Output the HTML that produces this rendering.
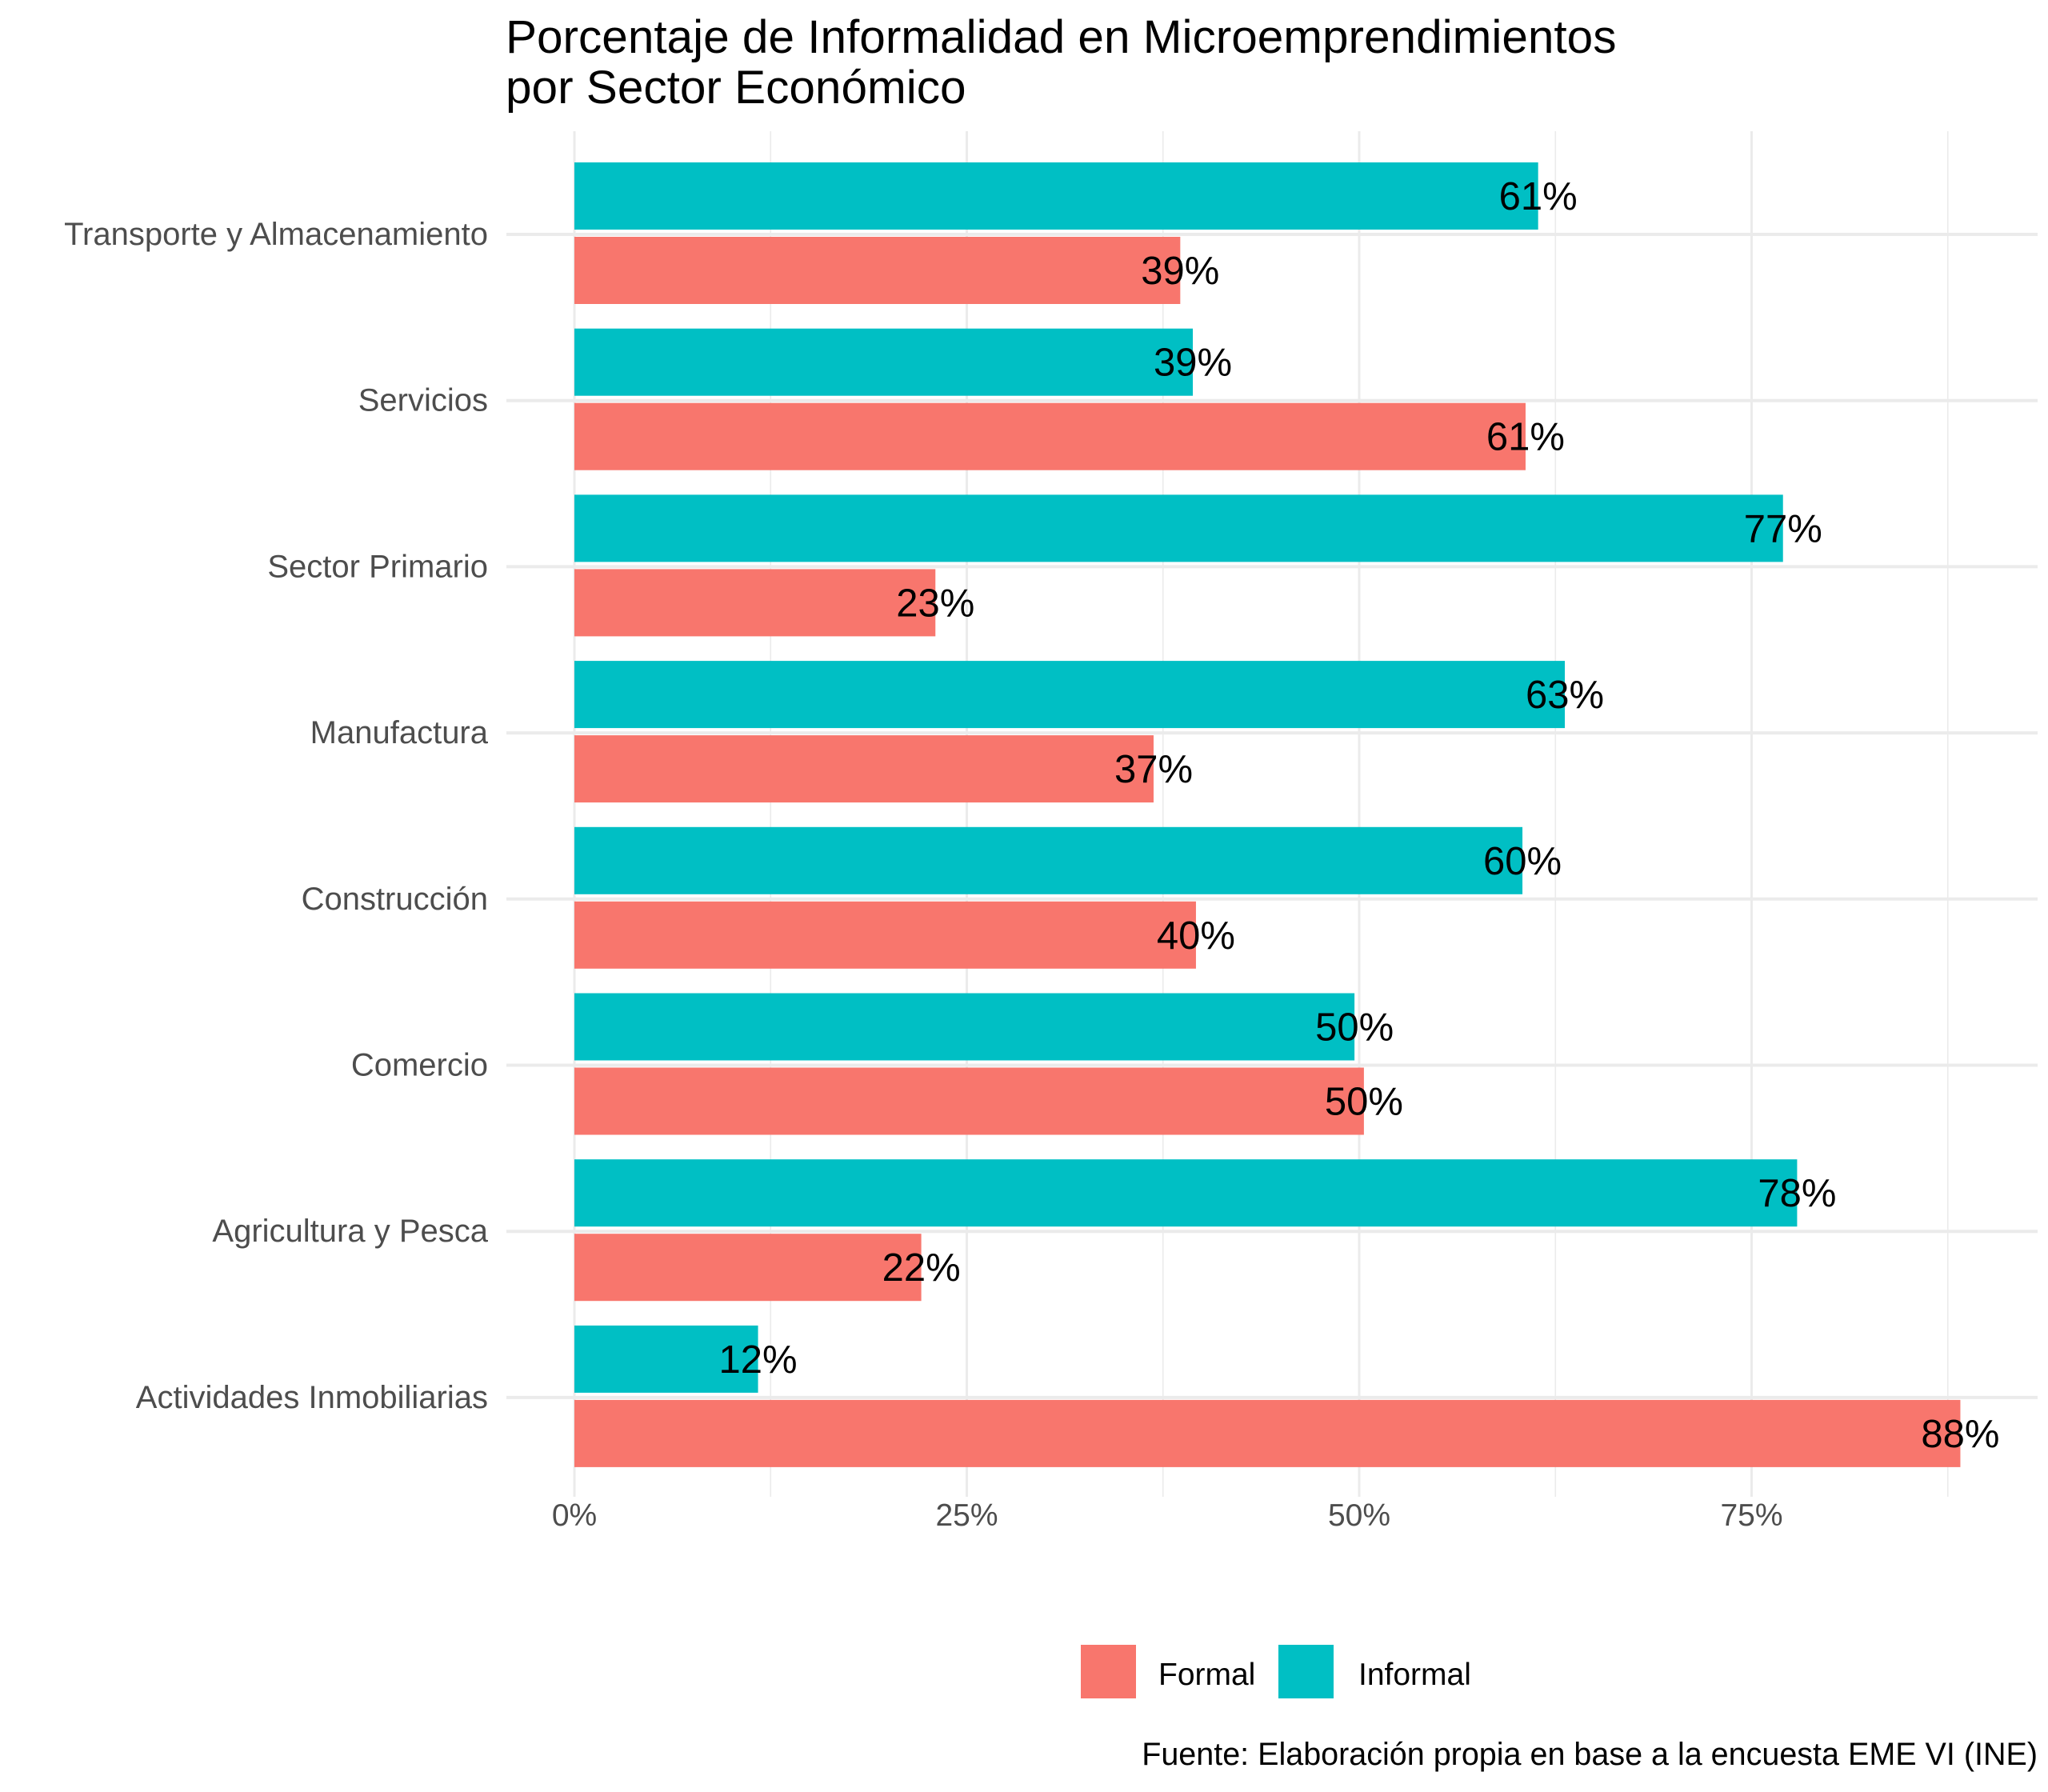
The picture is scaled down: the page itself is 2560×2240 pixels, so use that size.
<!DOCTYPE html>
<html><head><meta charset="utf-8">
<style>
html,body{margin:0;padding:0;background:#fff;}
svg{display:block;font-family:"Liberation Sans",Arial,sans-serif;}
</style></head>
<body>
<svg id="chart" width="2560" height="2240" viewBox="0 0 2560 2240" xmlns="http://www.w3.org/2000/svg">
<rect width="2560" height="2240" fill="#fff"/>
<text x="632" y="66" font-size="58.5" fill="#000">Porcentaje de Informalidad en Microemprendimientos</text>
<text x="632" y="129" font-size="58.5" fill="#000">por Sector Económico</text>
<g id="grid"></g>
<g id="bars"></g>
<g id="labels"></g>
<g id="yaxis"></g>
<g id="xaxis"></g>
<g>
<rect x="1351" y="2056" width="69" height="67" fill="#F8766D"/>
<text x="1448" y="2106" font-size="39" fill="#000">Formal</text>
<rect x="1598" y="2056" width="69" height="67" fill="#00BFC4"/>
<text x="1698" y="2106" font-size="39" fill="#000">Informal</text>
</g>
<text x="2547" y="2206" font-size="39.5" fill="#000" text-anchor="end">Fuente: Elaboración propia en base a la encuesta EME VI (INE)</text>
</svg>
<script>
const categories = ["Transporte y Almacenamiento","Servicios","Sector Primario","Manufactura","Construcción","Comercio","Agricultura y Pesca","Actividades Inmobiliarias"];
const informalValues = [61.4,39.4,77.0,63.1,60.4,49.7,77.9,11.7];
const formalValues = [38.6,60.6,23.0,36.9,39.6,50.3,22.1,88.3];
const xTicks = [0,25,50,75];
const xTickLabels = ["0%","25%","50%","75%"];

const NS = "http://www.w3.org/2000/svg";
const x0 = 718, pxPer = 19.62;
const xScale = v => x0 + v * pxPer;
const yTop = 293, band = 207.7;
const yScale = i => yTop + i * band;
const panelL = 633, panelR = 2547, panelT = 164, panelB = 1871;

function mk(tag, attrs, parent){
  const e = document.createElementNS(NS, tag);
  for (const k in attrs) e.setAttribute(k, attrs[k]);
  parent.appendChild(e);
  return e;
}
const grid = document.getElementById('grid');
const bars = document.getElementById('bars');
const labels = document.getElementById('labels');
const yaxis = document.getElementById('yaxis');
const xaxis = document.getElementById('xaxis');

for (let i = 0; i < xTicks.length; i++) {
  const l = mk('line', {x1: xScale(xTicks[i] + 12.5), x2: xScale(xTicks[i] + 12.5), y1: panelT, y2: panelB, stroke: '#ebebeb', 'stroke-width': 1.6}, grid);
  
  
}
for (let i = 0; i < xTicks.length; i++) {
  const x = xScale(xTicks[i]);
  const l = mk('line', {x1: x, x2: x, y1: panelT, y2: panelB, stroke: '#ebebeb', 'stroke-width': 3}, grid);
  
  
  const t = mk('text', {x: x, y: 1907, 'font-size': 39, fill: '#4d4d4d', 'text-anchor': 'middle'}, xaxis);
  t.textContent = xTickLabels[i];
  
  
}
for (let i = 0; i < categories.length; i++) {
  const y = yScale(i);
  const l = mk('line', {x1: panelL, x2: panelR, y1: y, y2: y, stroke: '#ebebeb', 'stroke-width': 4}, grid);
  
  
  const t = mk('text', {x: 610, y: y + 13, 'font-size': 40, fill: '#4d4d4d', 'text-anchor': 'end'}, yaxis);
  t.textContent = categories[i];
  
  

  const bi = mk('rect', {x: x0, y: y - 90, width: xScale(informalValues[i]) - x0, height: 84, fill: '#00BFC4'}, bars);
  
  
  const bf = mk('rect', {x: x0, y: y + 3, width: xScale(formalValues[i]) - x0, height: 84, fill: '#F8766D'}, bars);
  
  

  const li = mk('text', {x: xScale(informalValues[i]), y: y - 31, 'font-size': 49, fill: '#000', 'text-anchor': 'middle'}, labels);
  li.textContent = Math.round(informalValues[i]) + '%';
  
  
  const lf = mk('text', {x: xScale(formalValues[i]), y: y + 62, 'font-size': 49, fill: '#000', 'text-anchor': 'middle'}, labels);
  lf.textContent = Math.round(formalValues[i]) + '%';
  
  
}
</script>
</body></html>
